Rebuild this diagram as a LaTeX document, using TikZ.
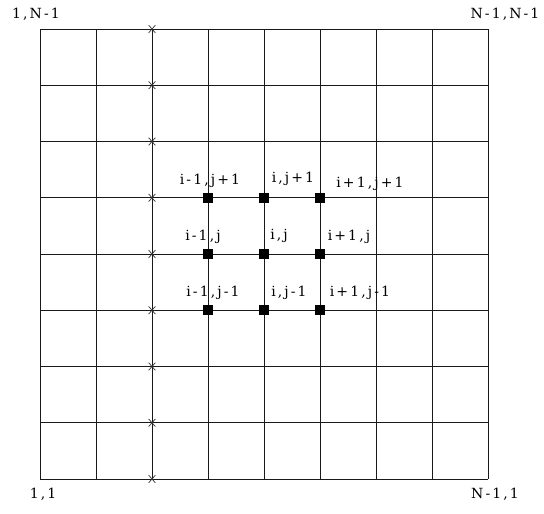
\documentclass[tikz,border=0pt]{standalone}
\usepackage{fontspec}
\setmainfont{DejaVu Serif}[LetterSpace=15]
\usetikzlibrary{shapes.misc}
\begin{document}
\begin{tikzpicture}[x=1pt,y=-1pt,
  gridline/.style={line width=1pt,black!90},
  pt/.style={fill=black,minimum size=10pt,inner sep=0pt,rectangle},
  xmark/.style={cross out,draw=black!80,line width=0.7pt,minimum width=6pt,minimum height=7pt,inner sep=0pt},
  lbl/.style={font=\fontsize{14}{14}\selectfont,inner sep=0pt,text=black}]
\useasboundingbox (0,0) rectangle (544,514);
% grid
\foreach \i in {0,...,8} {
  \draw[gridline] (40+56*\i,29) -- (40+56*\i,479);
  \draw[gridline] (40,29+56.25*\i) -- (488,29+56.25*\i);
}
% x marks on column 2
\foreach \k in {0,...,8} {
  \node[xmark] (x\k) at (152,29+56.25*\k) {};
}
% points
\node[pt] (a1) at (208,197.75) {};
\node[pt] (a2) at (264,197.75) {};
\node[pt] (a3) at (320,197.75) {};
\node[pt] (b1) at (208,254) {};
\node[pt] (b2) at (264,254) {};
\node[pt] (b3) at (320,254) {};
\node[pt] (c1) at (208,310.25) {};
\node[pt] (c2) at (264,310.25) {};
\node[pt] (c3) at (320,310.25) {};
% labels
\node[lbl] (la1) at (210,181) {i-1,j+1};
\node[lbl] (la2) at (293,179) {i,j+1};
\node[lbl] (la3) at (370,184) {i+1,j+1};
\node[lbl] (lb1) at (203,237) {i-1,j};
\node[lbl] (lb2) at (279,236) {i,j};
\node[lbl] (lb3) at (349,237) {i+1,j};
\node[lbl] (lc1) at (213,293) {i-1,j-1};
\node[lbl] (lc2) at (289,293) {i,j-1};
\node[lbl] (lc3) at (360,293) {i+1,j-1};
% corners
\node[lbl] (tl) at (36,14) {1,N-1};
\node[lbl] (tr) at (505,14) {N-1,N-1};
\node[lbl] (bl) at (43,494) {1,1};
\node[lbl] (br) at (495,494) {N-1,1};
\end{tikzpicture}
\end{document}
